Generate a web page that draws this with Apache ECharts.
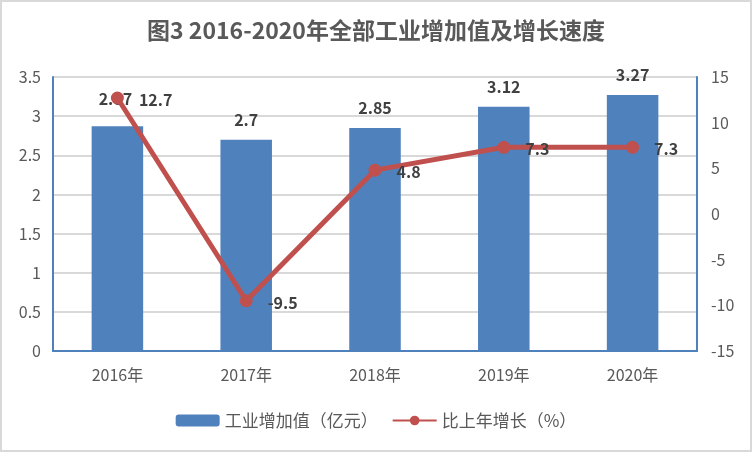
<!DOCTYPE html>
<html><head><meta charset="utf-8">
<script src="https://cdn.jsdelivr.net/npm/echarts@6/dist/echarts.min.js"></script>
<style>
html,body{margin:0;padding:0;background:#fff;}
#c{width:752px;height:452px;box-sizing:border-box;border:2px solid #D9D9D9;}
</style></head><body>
<div id="c"></div>
<script>
var categories = ['2016年','2017年','2018年','2019年','2020年'];
var valueAdded = [2.87, 2.7, 2.85, 3.12, 3.27];
var growthRate = [12.7, -9.5, 4.8, 7.3, 7.3];
var seriesNames = ['工业增加值（亿元）', '比上年增长（%）'];
var titleText = '图3 2016-2020年全部工业增加值及增长速度';

var FONT = '"Noto Sans CJK SC", "Noto Sans", sans-serif';
var chart = echarts.init(document.getElementById('c'), null, {renderer:'canvas'});
var barData = valueAdded.map(function(v, i){
  var d = {value: v};
  if (i === 0) d.label = {offset: [-2, -7]};
  return d;
});
chart.setOption({
  animation: false,
  textStyle: {fontFamily: FONT},
  title: {
    text: titleText, left: 'center', top: 12,
    textStyle: {fontFamily: FONT, fontSize: 23, fontWeight: 'bold', color: '#595959'}
  },
  legend: {
    bottom: 16, left: 'center', itemWidth: 44, itemHeight: 12, itemGap: 14,
    textStyle: {fontFamily: FONT, fontSize: 17, color: '#595959'},
    data: [{name: seriesNames[0]}, {name: seriesNames[1]}]
  },
  grid: {left: 51, right: 53, top: 75, bottom: 99, containLabel: false},
  xAxis: {
    type: 'category', data: categories,
    axisLine: {lineStyle: {color: '#4F81BD', width: 2}},
    axisTick: {show: false},
    axisLabel: {fontFamily: FONT, fontSize: 16, color: '#595959', margin: 16}
  },
  yAxis: [{
    type: 'value', min: 0, max: 3.5, interval: 0.5,
    axisLine: {show: true, lineStyle: {color: '#4F81BD', width: 2}},
    axisTick: {show: false},
    axisLabel: {fontFamily: FONT, fontSize: 16, color: '#595959', margin: 12},
    splitLine: {lineStyle: {color: '#D9D9D9', width: 2}}
  }, {
    type: 'value', min: -15, max: 15, interval: 5,
    axisLine: {show: true, lineStyle: {color: '#4F81BD', width: 2}},
    axisTick: {show: false},
    axisLabel: {fontFamily: FONT, fontSize: 16, color: '#595959', margin: 14},
    splitLine: {show: false}
  }],
  series: [{
    name: seriesNames[0], type: 'bar', data: barData, barWidth: '40%',
    itemStyle: {color: '#4F81BD'},
    label: {show: true, position: 'top', distance: 12, fontFamily: FONT, fontSize: 16, fontWeight: 'bold', color: '#404040'}
  }, {
    name: seriesNames[1], type: 'line', yAxisIndex: 1, data: growthRate,
    symbol: 'circle', symbolSize: 13,
    lineStyle: {color: '#C0504D', width: 5},
    itemStyle: {color: '#C0504D'},
    label: {show: true, position: 'right', distance: 15, offset: [0, 2], fontFamily: FONT, fontSize: 16, fontWeight: 'bold', color: '#404040'}
  }]
});
</script>
</body></html>
